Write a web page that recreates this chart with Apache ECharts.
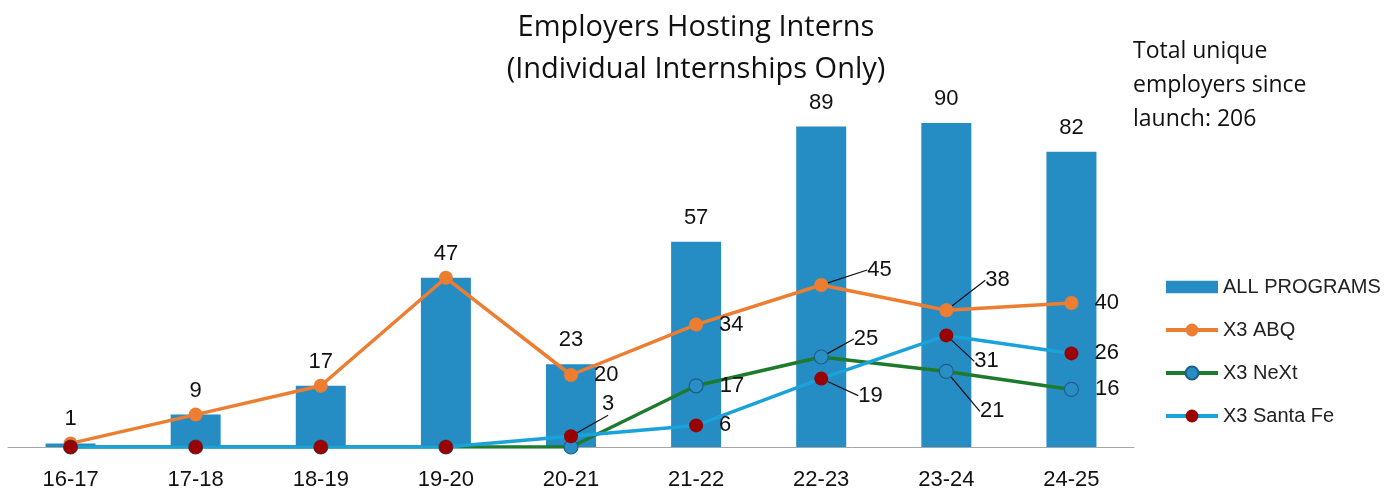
<!DOCTYPE html>
<html>
<head>
<meta charset="utf-8">
<script src="https://cdn.jsdelivr.net/npm/echarts@6/dist/echarts.min.js"></script>
<style>
  html, body { margin: 0; padding: 0; background: #fff; }
  #main { width: 1392px; height: 494px; }
</style>
</head>
<body>
<div id="main"></div>
<script>
// 数据
var years = ['16-17', '17-18', '18-19', '19-20', '20-21', '21-22', '22-23', '23-24', '24-25'];
var allPrograms = [1, 9, 17, 47, 23, 57, 89, 90, 82];
var abq = [1, 9, 17, 47, 20, 34, 45, 38, 40];
var nextGen = [0, 0, 0, 0, 0, 17, 25, 21, 16];
var santaFe = [0, 0, 0, 0, 3, 6, 19, 31, 26];

// 有引线的标签偏移 [dx, dy]
var shiftAbq = {6: [23, -15], 7: [16, -30]};
var shiftNext = {6: [9, -18], 7: [10, 40]};
var shiftSf = {4: [8, -32], 6: [14, 17], 7: [5, 26]};

var labelFont = {color: '#111', fontSize: 22, fontFamily: 'Liberation Sans'};

function lineItems(values, hideBefore, shift) {
    return values.map(function (v, i) {
        var show = i >= hideBefore && v > 0;
        return {
            value: v,
            label: {show: show},
            labelLine: {show: show && !!shift[i]}
        };
    });
}

function shiftLayout(shift) {
    return function (params) {
        var s = shift[params.dataIndex];
        if (!s) return {};
        return {dx: s[0], dy: s[1]};
    };
}

var chart = echarts.init(document.getElementById('main'));
var option = {
    backgroundColor: '#fff',
    animation: false,
    title: [{
        text: 'Employers Hosting Interns\n(Individual Internships Only)',
        left: 691,
        textAlign: 'center',
        top: 2,
        textStyle: {
            color: '#111',
            fontWeight: 'normal',
            fontSize: 29,
            lineHeight: 42,
            fontFamily: 'Open Sans'
        }
    }, {
        text: 'Total unique\nemployers since\nlaunch: 206',
        left: 1128,
        top: 29,
        textStyle: {
            color: '#111',
            fontWeight: 'normal',
            fontSize: 23,
            lineHeight: 34,
            fontFamily: 'Open Sans'
        }
    }],
    legend: {
        orient: 'vertical',
        left: 1159,
        top: 272,
        itemWidth: 52,
        itemHeight: 16,
        itemGap: 23,
        lineStyle: {width: 4},
        textStyle: {color: '#222', fontSize: 20, lineHeight: 20, fontFamily: 'Liberation Sans'},
        data: [
            {name: 'ALL PROGRAMS', icon: 'path://M0,0H50V12H0Z'},
            'X3 ABQ', 'X3 NeXt', 'X3 Santa Fe'
        ]
    },
    grid: {left: 8, right: 258, top: 87, bottom: 47},
    xAxis: {
        type: 'category',
        data: years,
        axisTick: {show: false},
        axisLine: {lineStyle: {color: '#a6a6a6', width: 1}},
        axisLabel: {color: '#111', fontSize: 22, fontFamily: 'Liberation Sans', margin: 22}
    },
    yAxis: {
        type: 'value',
        min: 0,
        max: 100,
        show: false,
        splitLine: {show: false}
    },
    series: [{
        name: 'ALL PROGRAMS',
        type: 'bar',
        data: allPrograms,
        barWidth: 50,
        itemStyle: {color: '#258dc4'},
        label: Object.assign({show: true, position: 'top', distance: 13}, labelFont)
    }, {
        name: 'X3 ABQ',
        type: 'line',
        data: lineItems(abq, 4, shiftAbq),
        symbol: 'circle',
        symbolSize: 14,
        lineStyle: {color: '#ed7d31', width: 3.5},
        itemStyle: {color: '#ed7d31'},
        label: Object.assign({position: 'right', distance: 16}, labelFont),
        labelLine: {lineStyle: {color: '#111', width: 1.2}},
        labelLayout: shiftLayout(shiftAbq)
    }, {
        name: 'X3 NeXt',
        type: 'line',
        data: lineItems(nextGen, 0, shiftNext),
        symbol: 'circle',
        symbolSize: 14,
        lineStyle: {color: '#1e7a2c', width: 3.5},
        itemStyle: {color: '#2a8ec6', borderColor: '#1c5f85', borderWidth: 1.2},
        label: Object.assign({position: 'right', distance: 16}, labelFont),
        labelLine: {lineStyle: {color: '#111', width: 1.2}},
        labelLayout: shiftLayout(shiftNext)
    }, {
        name: 'X3 Santa Fe',
        type: 'line',
        data: lineItems(santaFe, 0, shiftSf),
        symbol: 'circle',
        symbolSize: 14,
        lineStyle: {color: '#1aa2da', width: 3.5},
        itemStyle: {color: '#990000'},
        label: Object.assign({position: 'right', distance: 16}, labelFont),
        labelLine: {lineStyle: {color: '#111', width: 1.2}},
        labelLayout: shiftLayout(shiftSf)
    }]
};
chart.setOption(option);
</script>
</body>
</html>
